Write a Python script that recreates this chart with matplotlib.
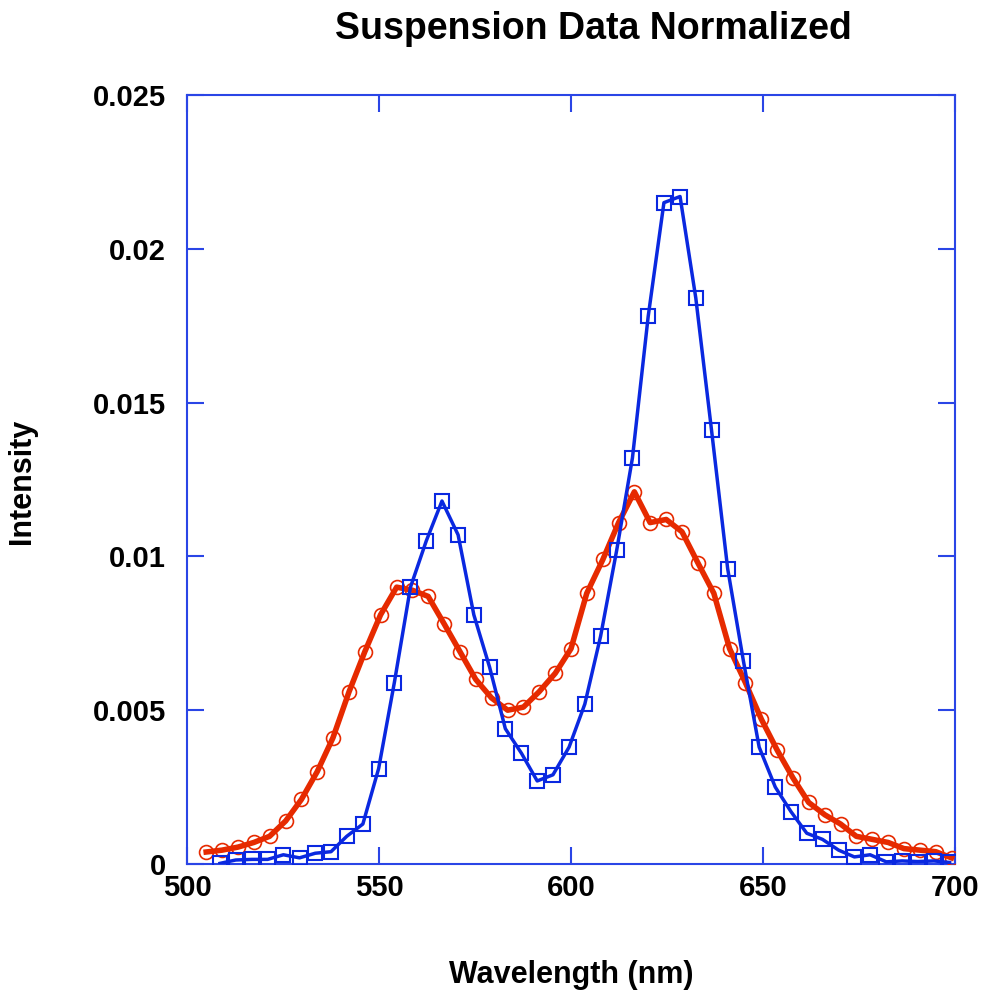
import matplotlib
matplotlib.use("Agg")
import matplotlib.pyplot as plt
from matplotlib.ticker import FixedLocator, FixedFormatter

# red series (circles)
red_nm = [505.0, 509.1, 513.3, 517.4, 521.5, 525.7, 529.8, 533.9, 538.0, 542.2,
          546.3, 550.4, 554.6, 558.7, 562.8, 567.0, 571.1, 575.2, 579.3, 583.5,
          587.6, 591.7, 595.9, 600.0, 604.1, 608.3, 612.4, 616.5, 620.6, 624.8,
          628.9, 633.0, 637.2, 641.3, 645.4, 649.6, 653.7, 657.8, 661.9, 666.1,
          670.2, 674.3, 678.5, 682.6, 686.7, 690.9, 695.0, 699.1]
red_int = [0.00039, 0.00045, 0.00055, 0.0007, 0.0009, 0.0014, 0.0021, 0.0030, 0.0041, 0.0056,
           0.0069, 0.0081, 0.0090, 0.0089, 0.0087, 0.0078, 0.0069, 0.0060, 0.0054, 0.0050,
           0.0051, 0.0056, 0.0062, 0.0070, 0.0088, 0.0099, 0.0111, 0.0121, 0.0111, 0.0112,
           0.0108, 0.0098, 0.0088, 0.0070, 0.0059, 0.0047, 0.0037, 0.0028, 0.0020, 0.0016,
           0.0013, 0.0009, 0.0008, 0.0007, 0.0005, 0.00045, 0.0004, 0.0002]

# blue series (squares)
blue_nm = [508.6, 512.7, 516.9, 521.0, 525.1, 529.3, 533.4, 537.5, 541.6, 545.8,
           549.9, 554.0, 558.2, 562.3, 566.4, 570.6, 574.7, 578.8, 582.9, 587.1,
           591.2, 595.3, 599.5, 603.6, 607.7, 611.9, 616.0, 620.1, 624.2, 628.4,
           632.5, 636.6, 640.8, 644.9, 649.0, 653.2, 657.3, 661.4, 665.5, 669.7,
           673.8, 677.9, 682.1, 686.2, 690.3, 694.5, 698.6]
blue_int = [0.00002, 0.00013, 0.00015, 0.00015, 0.0003, 0.0002, 0.00035, 0.0004, 0.0009, 0.0013,
            0.0031, 0.0059, 0.0090, 0.0105, 0.0118, 0.0107, 0.0081, 0.0064, 0.0044, 0.0036,
            0.0027, 0.0029, 0.0038, 0.0052, 0.0074, 0.0102, 0.0132, 0.0178, 0.0215, 0.0217,
            0.0184, 0.0141, 0.0096, 0.0066, 0.0038, 0.0025, 0.0017, 0.0010, 0.0008, 0.00045,
            0.00023, 0.0003, 0.00007, 0.0001, 0.00008, 0.0001, 0.00005]

x_ticks = [500, 550, 600, 650, 700]
y_ticks = [0, 0.005, 0.01, 0.015, 0.02, 0.025]
y_labels = ["0", "0.005", "0.01", "0.015", "0.02", "0.025"]

plt.rcParams['font.family'] = ['Liberation Sans', 'DejaVu Sans']
plt.rcParams['font.weight'] = 'bold'

axis_col = '#2a45e6'
red = '#e62a00'
blue = '#0a28e0'

fig = plt.figure(figsize=(9.86, 9.98), dpi=100)
ax = fig.add_axes([187 / 986, 134 / 998, 768 / 986, 769 / 998])

ax.plot(red_nm, red_int, color=red, lw=4, marker='o', ms=10, mfc='none',
        mec=red, mew=1.2, zorder=3)
ax.plot(blue_nm, blue_int, color=blue, lw=2.5, marker='s', ms=10, mfc='none',
        mec=blue, mew=1.5, zorder=4)

ax.set_xlim(500, 700)
ax.set_ylim(0, 0.025)
ax.xaxis.set_major_locator(FixedLocator(x_ticks))
ax.yaxis.set_major_locator(FixedLocator(y_ticks))
ax.yaxis.set_major_formatter(FixedFormatter(y_labels))

for s in ax.spines.values():
    s.set_color(axis_col)
    s.set_linewidth(1.5)
ax.tick_params(direction='in', length=12, width=1.5, color=axis_col,
               top=True, right=True, labelsize=21)
ax.tick_params(axis='x', pad=7)
ax.tick_params(axis='y', pad=15)
for lab in ax.get_xticklabels() + ax.get_yticklabels():
    lab.set_fontweight('bold')

fig.text(571 / 986, 1 - 975 / 998, 'Wavelength (nm)', fontsize=22,
         fontweight='bold', ha='center', va='center')
fig.text(22 / 986, 1 - 481 / 998, 'Intensity', fontsize=22, fontweight='bold',
         ha='center', va='center', rotation=90)
fig.text(593 / 986, 1 - 29 / 998, 'Suspension Data Normalized', fontsize=27,
         fontweight='bold', ha='center', va='center')

fig.savefig('out.png', dpi=100)
